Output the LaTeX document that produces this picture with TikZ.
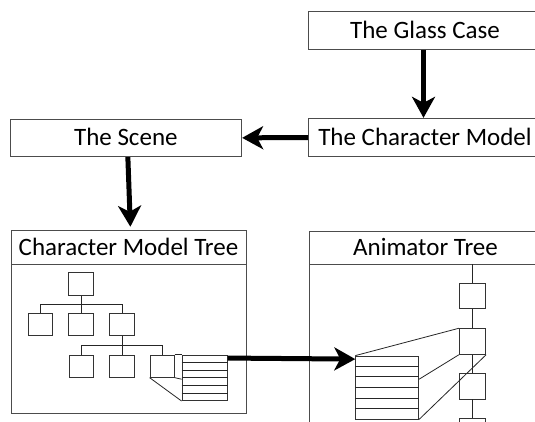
\documentclass[tikz,border=0pt]{standalone}
\usepackage{fontspec}
\setmainfont{Carlito}
\usetikzlibrary{arrows.meta,calc}
\tikzset{
  box/.style={draw=black!70, line width=0.9pt, rectangle, inner sep=0pt,
    text height=16.1pt, text depth=0pt, font=\fontsize{25}{30}\selectfont},
  tbox/.style={draw=black!80, line width=0.8pt, rectangle, inner sep=0pt,
    minimum width=24.3pt, minimum height=22.3pt},
  abox/.style={draw=black!80, line width=0.8pt, rectangle, inner sep=0pt,
    minimum width=26.4pt, minimum height=25.7pt},
  link/.style={draw=black!85, line width=0.8pt},
  bigarrow/.style={line width=5pt, -{Stealth[length=21pt,width=23pt,inset=6pt]}},
}
\begin{document}
\begin{tikzpicture}[x=1pt,y=-1pt]
\useasboundingbox (0,0) rectangle (535,421);
\clip (0,0) rectangle (535,421);
% top boxes
\node[box, minimum width=233pt, minimum height=37.6pt] (gc) at (425,30.5) {The Glass Case};
\node[box, minimum width=233pt, minimum height=38.4pt] (cm) at (425,137.5) {The Character Model};
\node[box, minimum width=231.7pt, minimum height=37.7pt] (sc) at (125.85,137.85) {The Scene};
% character model tree
\node[box, minimum width=235pt, minimum height=33.3pt] (cmtt) at (128.5,247.35) {Character Model Tree};
\node[box, minimum width=235pt, minimum height=149pt] (cmtb) at (128.5,338.5) {};
% animator tree
\node[box, minimum width=232pt, minimum height=33pt] (at) at (425.5,247.5) {Animator Tree};
\node[box, minimum width=232pt, minimum height=216pt] (atb) at (425.5,372) {};
% big arrows
\draw[bigarrow] ([xshift=-1.5pt]gc.south) -- ([xshift=-1.5pt]cm.north);
\draw[bigarrow] (cm.west) -- (sc.east);
\draw[bigarrow, shorten >=3.5pt] ([xshift=2pt]sc.south) -- ([xshift=2pt]cmtt.north);
% tree
\node[tbox] (r)  at (81,284) {};
\node[tbox] (a1) at (40.3,324.5) {};
\node[tbox] (a2) at (81,324.5) {};
\node[tbox] (a3) at (122,324.5) {};
\node[tbox] (b1) at (81.3,366.1) {};
\node[tbox] (b2) at (122,366.1) {};
\node[tbox] (b3) at (162.15,366.1) {};
\draw[link] (r.south) -- (a2.north);
\draw[link] (a1.north) |- ($(r.south)!0.5!(a2.north)$) -| (a3.north);
\draw[link] (a3.south) -- (b2.north);
\draw[link] (b1.north) |- ($(a3.south)!0.5!(b2.north)$) -| (b3.north);
% character table
\node[draw=black!80, line width=0.8pt, inner sep=0pt, minimum width=45.3pt, minimum height=45.7pt] (ctab) at (204.65,377.8) {};
\foreach \i in {1,...,5}
  \draw[link] ($(ctab.north west)!\i/6!(ctab.south west)$) -- ($(ctab.north east)!\i/6!(ctab.south east)$);
\draw[link] (b3.north east) -- (ctab.north west);
\draw[link] (b3.south east) -- ($(ctab.north west)!0.53!(ctab.south west)$);
\draw[link] (b3.south west) -- (ctab.south west);
% animator chain
\node[abox] (c1) at (472.5,296) {};
\node[abox] (c2) at (472.5,341.5) {};
\node[abox] (c3) at (472.5,386.2) {};
\node[abox] (c4) at (472.5,431.2) {};
\draw[link] (c1.north) -- (c1.north |- at.south);
\draw[link] (c1.south) -- (c2.north);
\draw[link] (c2.south) -- (c3.north);
\draw[link] (c3.south) -- (c4.north);
% animator table
\node[draw=black!80, line width=0.8pt, inner sep=0pt, minimum width=63pt, minimum height=63pt] (atab) at (387.2,387.5) {};
\foreach \i in {1,...,5}
  \draw[link] ($(atab.north west)!\i/6!(atab.south west)$) -- ($(atab.north east)!\i/6!(atab.south east)$);
\draw[link] (atab.north west) -- (c2.north west);
\draw[link] ($(atab.north east)!0.37!(atab.south east)$) -- (c2.south west);
\draw[link] (atab.south east) -- (c2.south east);
% connecting arrow
\draw[bigarrow] ([yshift=-3.5pt]ctab.north east) -- ([yshift=-3.5pt]atab.north west);
\end{tikzpicture}
\end{document}
